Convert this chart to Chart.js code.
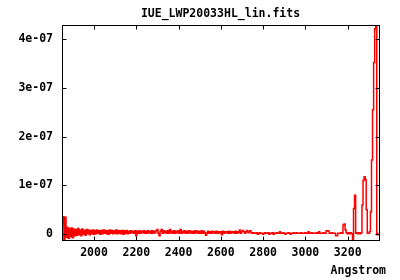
<!DOCTYPE html>
<html>
<head>
<meta charset="utf-8">
<script src="https://cdn.jsdelivr.net/npm/chart.js@4.4.0/dist/chart.umd.min.js"></script>
<style>
  body { margin: 0; background: #fff; }
  canvas { display: block; }
</style>
</head>
<body>
<canvas id="spec" width="400" height="280"></canvas>
<script>
// spectrum: regular wavelength grid (Angstrom) + flux, in units of 1e-9
const waveStart = 1850;
const waveStep = 5;
const fluxUnit = 1e-9;
const flux = [
  18, 36, -10, 35, -6, 14, -8, 12, -5, 13, -7,
  11, -3, 10, -2, 12, -1, 9, -3, 11, 0, 8, -2, 10, 1, 9, -1, 8,
  1, 9, 0, 8, 1, 9, 2, 7, 0, 8,
  1, 9, 2, 8, 1, 7, 0, 9, 2, 8,
  1, 7, 2, 9, 1, 8, 2, 7, 1, 8,
  0, 7, 2, 8, 1,
  6, 2, 7, 3, 6, 2, 7,
  -3, 6, 2, 7, 2, 6, 3, 7, 2, 6,
  2, 7, 3, 6, 2, 7, 2, 6, 3, 7,
  10, 2, -3, 6, 10, 2, 7, 3, 6, 2,
  7, 2, 10, 3, 6, 2, 7, 2, 6, 3,
  7, 2, 10, 2, 6, 3, 7, 2, 6, 2,
  7, 3, 6, 2, 6, 2, 7, 3, 6, 2,
  6, 2, 7, 2, 6, 3, -2, 2, 6, 2,
  5, 2, 6, 3, 5, 2, 6, 2, 5, 3,
  5, -1, 6, 2, 5, 3, 5, 2, 6, 2,
  5, 3, 5, 2, 6, 2, 5, 3, 9, 2,
  5, 8, 5, 2, 5, 8, 3, 5, 7,
  3, 2, 3, 2, 2, 3, 0, 2, 3, 2, 2,
  0, 2, 3, 2, 2, 3, 0, 2, 2, 3,
  0, 2, 2, 3, 2, 2, 5, 2, 2, 3,
  2, 0, 2, 2, 3, 2, 0, 2, 2, 3,
  2, 2, 3, 2, 2, 2, 3, 2, 2, 2,
  3, 2, 2, 5, 2, 2, 3, 2, 2, 2,
  2, 3, 2, 5, 2, 2, 2, 3, 2, 2,
  7, 7, 6, 2, 2, 3, 2, 2, 2, -3,
  -3, 2, 2, 2, 3, 2, 19, 21, 9, 3,
  1, 3, 1, 3, 1, -10, 53, 80, 2, 3,
  1, 3, 1, 3, 60, 110, 118, 112, 50, 2,
  2, 5, 46, 152, 255, 352, 421, 426, -1, 2
];

const xTickValues = [2000, 2200, 2400, 2600, 2800, 3000, 3200];
const yTickValues = [0, 1e-7, 2e-7, 3e-7, 4e-7];
const yTickLabels = ['0', '1e-07', '2e-07', '3e-07', '4e-07'];

const titleText = 'IUE_LWP20033HL_lin.fits';
const xAxisText = 'Angstrom';

const fontFamily = '"DejaVu Sans Mono", "Liberation Mono", monospace';
const labelFont = { family: fontFamily, size: 11.5, weight: 'bold' };

const points = flux.map((f, i) => ({ x: waveStart + i * waveStep, y: f * fluxUnit }));

// gnuplot style box with inward ticks on all four sides, plus the x label
const framePlugin = {
  id: 'frame',
  afterDraw(chart) {
    const ctx = chart.ctx;
    const a = chart.chartArea;
    const xs = chart.scales.x, ys = chart.scales.y;
    const l = Math.round(a.left) + 0.5, r = Math.round(a.right) + 0.5;
    const t = Math.round(a.top) + 0.5, b = Math.round(a.bottom) + 0.5;
    ctx.save();
    ctx.strokeStyle = '#000';
    ctx.lineWidth = 1;
    ctx.strokeRect(l, t, r - l, b - t);
    ctx.beginPath();
    xTickValues.forEach(v => {
      const px = Math.round(xs.getPixelForValue(v)) + 0.5;
      ctx.moveTo(px, b); ctx.lineTo(px, b - 4);
      ctx.moveTo(px, t); ctx.lineTo(px, t + 4);
    });
    yTickValues.forEach(v => {
      const py = Math.round(ys.getPixelForValue(v)) + 0.5;
      ctx.moveTo(l, py); ctx.lineTo(l + 4, py);
      ctx.moveTo(r, py); ctx.lineTo(r - 4, py);
    });
    ctx.stroke();

    ctx.fillStyle = '#000';
    ctx.font = 'bold 11.5px ' + fontFamily;
    ctx.textAlign = 'right';
    ctx.textBaseline = 'middle';
    ctx.fillText(xAxisText, a.right + 7, 271);
    ctx.restore();
  }
};

new Chart(document.getElementById('spec'), {
  type: 'line',
  data: {
    datasets: [{
      data: points,
      borderColor: '#ff0000',
      borderWidth: 1.5,
      pointRadius: 0,
      stepped: 'middle',
      fill: false
    }]
  },
  options: {
    responsive: false,
    animation: false,
    layout: { padding: { left: 0, right: 21, top: 0, bottom: 0 } },
    plugins: {
      legend: { display: false },
      tooltip: { enabled: false },
      title: {
        display: true,
        text: titleText,
        fullSize: false,
        color: '#000',
        font: labelFont,
        padding: { top: 7, bottom: 4 }
      }
    },
    scales: {
      x: {
        type: 'linear',
        min: 1848.5,
        max: 3348,
        grid: { display: false, drawTicks: false },
        border: { display: false },
        ticks: {
          color: '#000',
          font: labelFont,
          padding: 6,
          maxRotation: 0,
          callback: v => String(v)
        },
        afterBuildTicks: s => { s.ticks = xTickValues.map(v => ({ value: v })); },
        afterFit: s => { s.height = 40; }
      },
      y: {
        min: -1.17e-8,
        max: 4.29e-7,
        grid: { display: false, drawTicks: false },
        border: { display: false },
        ticks: {
          color: '#000',
          font: labelFont,
          padding: 9,
          callback: (v, i) => yTickLabels[i]
        },
        afterBuildTicks: s => { s.ticks = yTickValues.map(v => ({ value: v })); },
        afterFit: s => { s.width = 62; }
      }
    }
  },
  plugins: [framePlugin]
});
</script>
</body>
</html>
